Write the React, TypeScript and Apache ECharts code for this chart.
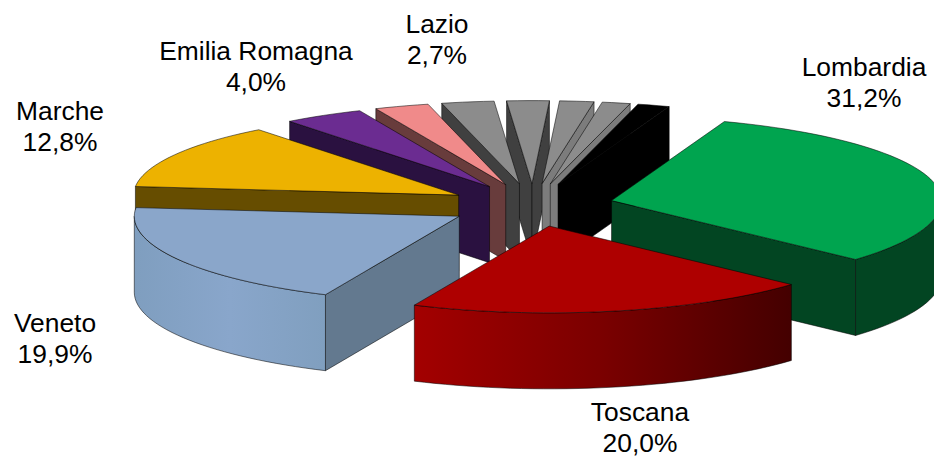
import React, { useEffect, useRef } from "react";
import * as echarts from "echarts";

const names = ["Lombardia", "Toscana", "Veneto", "Marche", "Emilia Romagna", "Lazio", "Altre 1", "Altre 2", "Altre 3", "Altre 4", "Altre 5"];
const values = [31.2, 20.0, 19.9, 12.8, 4.0, 2.7, 2.6, 2.1, 1.7, 1.4, 1.6];
const labelled = ["Lombardia", "Toscana", "Veneto", "Marche", "Emilia Romagna", "Lazio"];

const topColors = ["#00a44f", "#ae0000", "#8aa6ca", "#edb200", "#6b2c91", "#f08a8a", "#8c8c8c", "#8c8c8c", "#8c8c8c", "#8c8c8c", "#000000"];
const sideColors = ["#024522", "#4a0000", "#63798f", "#664d00", "#2a1140", "#683c3c", "#404040", "#404040", "#7c7c7c", "#7c7c7c", "#000000"];
const wallFrom = ["#024522", "#a30000", "#7f9ebf", "#664d00", "#2a1140", "#683c3c", "#404040", "#404040", "#7c7c7c", "#7c7c7c", "#000000"];
const wallMid = ["#024522", "#7a0000", "#89a6cb", "#664d00", "#2a1140", "#683c3c", "#404040", "#404040", "#7c7c7c", "#7c7c7c", "#000000"];
const wallTo = ["#024522", "#440000", "#809fbf", "#664d00", "#2a1140", "#683c3c", "#404040", "#404040", "#7c7c7c", "#7c7c7c", "#000000"];

const labelAnchors: Record<string, [number, number]> = {
  Lombardia: [864, 51],
  Toscana: [640, 396],
  Veneto: [55, 307],
  Marche: [60, 95],
  "Emilia Romagna": [256, 35],
  Lazio: [437, 8],
};

const CX = 533;
const CY = 206;
const EXPLODE = 85;
const RADIUS = 325;
const TILT_FRONT = 0.265;
const TILT_BACK = 0.255;
const DEPTH = 76;
const START_DEG = 20;
const EDGE = "rgba(0,0,0,0.65)";
const TOTAL = values.reduce((a, b) => a + b, 0);
// small per-slice corrections for the original's perspective
const nudgeX = [-4, -1, 0, 0, 0, 0, 0, 0, 0, 0, 0];
const nudgeY = [0, -2, -1, 0, 0, 0, 0, 0, 0, 0, 0];
const nudgeR = [5, 2.5, 0, 0, 0, 0, 0, 0, 0, 0, 0];

const rad = (d: number) => (d * Math.PI) / 180;
const startOf = (i: number) => START_DEG + (values.slice(0, i).reduce((a, b) => a + b, 0) / TOTAL) * 360;
const spanOf = (v: number) => (v / TOTAL) * 360;
const midOf = (i: number) => startOf(i) + spanOf(values[i]) / 2;

// far slices first, near slices last
const drawOrder = values.map((_, i) => i).sort((a, b) => Math.cos(rad(midOf(b))) - Math.cos(rad(midOf(a))));

function renderItem(params: any, api: any) {
  const idx = drawOrder[params.dataIndex];
  const v = api.value(0);
  const a0 = startOf(idx);
  const a1 = a0 + spanOf(v);
  const m = (a0 + a1) / 2;
  const ax = CX + EXPLODE * Math.sin(rad(m)) + nudgeX[idx];
  const ay = CY - EXPLODE * TILT_FRONT * Math.cos(rad(m)) + nudgeY[idx];
  const r = RADIUS + nudgeR[idx];
  const rim = (deg: number, dy = 0): [number, number] => {
    const c = Math.cos(rad(deg));
    return [ax + r * Math.sin(rad(deg)), ay - r * (c > 0 ? TILT_BACK : TILT_FRONT) * c + dy];
  };
  const arc = (from: number, to: number, dy = 0) => {
    const pts: [number, number][] = [];
    const n = Math.max(2, Math.ceil(Math.abs(to - from) / 2));
    for (let k = 0; k <= n; k++) pts.push(rim(from + ((to - from) * k) / n, dy));
    return pts;
  };
  const children: any[] = [];
  let z = params.dataIndex * 10;
  const poly = (points: number[][], fill: any) =>
    children.push({
      type: "polygon",
      z2: z++,
      shape: { points },
      style: { fill, stroke: EDGE, lineWidth: 0.8, lineJoin: "round" },
    });
  const face = (deg: number) => {
    const e = rim(deg);
    poly([[ax, ay], e, [e[0], e[1] + DEPTH], [ax, ay + DEPTH]], sideColors[idx]);
  };
  if (Math.sin(rad(a0)) < 0) face(a0);
  if (Math.sin(rad(a1)) > 0) face(a1);
  const w0 = Math.max(a0, 90);
  const w1 = Math.min(a1, 270);
  if (w1 > w0) {
    const upper = arc(w0, w1);
    const lower = arc(w1, w0, DEPTH);
    poly(
      upper.concat(lower),
      new echarts.graphic.LinearGradient(0, 0, 1, 0, [
        { offset: 0, color: wallFrom[idx] },
        { offset: 0.5, color: wallMid[idx] },
        { offset: 1, color: wallTo[idx] },
      ])
    );
  }
  poly([[ax, ay] as [number, number]].concat(arc(a0, a1)), topColors[idx]);
  return { type: "group", children };
}

export default function App() {
  const ref = useRef<HTMLDivElement>(null);
  useEffect(() => {
    const chart = echarts.init(ref.current!, undefined, { renderer: "svg" });
    chart.setOption({
      animation: false,
      backgroundColor: "#ffffff",
      graphic: labelled.map((name) => ({
        type: "text",
        x: labelAnchors[name][0],
        y: labelAnchors[name][1],
        z: 10,
        style: {
          text: `${name}\n${values[names.indexOf(name)].toFixed(1).replace(".", ",")}%`,
          fill: "#000000",
          font: '26.4px "Liberation Sans", Arial, sans-serif',
          lineHeight: 31,
          align: "center",
          textAlign: "center",
        },
      })),
      series: [
        {
          type: "custom",
          coordinateSystem: "none",
          renderItem,
          clip: false,
          silent: true,
          data: drawOrder.map((i) => ({ name: names[i], value: [values[i]] })),
        },
      ],
    });
    return () => chart.dispose();
  }, []);
  return <div ref={ref} style={{ position: "fixed", left: 0, top: 0, width: 934, height: 457 }} />;
}
